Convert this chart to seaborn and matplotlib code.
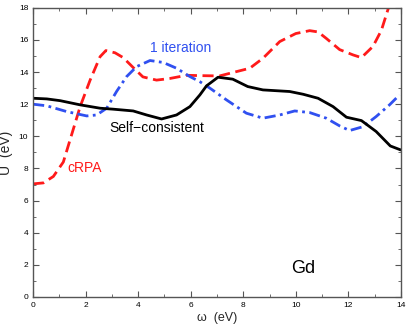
import numpy as np
import pandas as pd
import seaborn as sns
import matplotlib.pyplot as plt
from matplotlib.ticker import MultipleLocator

# cRPA (red dashed)
crpa_w = [0.0, 0.39, 0.77, 1.15, 1.41, 1.79, 2.17, 2.55, 2.77, 3.12, 3.43, 3.8, 4.18, 4.7, 5.2,
          5.84, 6.35, 7.1, 7.6, 8.25, 8.75, 9.39, 10.0, 10.53, 10.85, 11.16, 11.67, 12.18, 12.5,
          12.94, 13.26, 13.55]
crpa_u = [7.04, 7.1, 7.5, 8.4, 9.8, 11.85, 13.5, 14.96, 15.34, 15.2, 14.9, 14.3, 13.7, 13.5, 13.6,
          13.8, 13.78, 13.76, 13.97, 14.24, 14.86, 15.9, 16.4, 16.58, 16.5, 16.1, 15.4, 15.07, 14.9,
          15.6, 16.6, 18.1]

# 1 iteration (blue dash-dot)
iter_w = [0.0, 0.52, 1.28, 2.04, 2.42, 2.8, 3.18, 3.56, 3.94, 4.45, 4.95, 5.46, 5.97, 6.35, 6.73,
          7.36, 8.12, 8.75, 9.39, 9.96, 10.53, 11.16, 11.67, 12.05, 12.56, 13.06, 13.57, 13.95]
iter_u = [12.0, 11.9, 11.54, 11.27, 11.33, 11.75, 12.8, 13.72, 14.34, 14.72, 14.6, 14.24, 13.72,
          13.4, 13.0, 12.27, 11.44, 11.13, 11.33, 11.58, 11.48, 11.13, 10.65, 10.36, 10.6, 11.23,
          11.96, 12.58]

# Self-consistent (black solid)
sc_w = [0.0, 0.52, 1.03, 1.79, 2.55, 3.05, 3.81, 4.32, 4.89, 5.46, 5.97, 6.35, 6.6, 7.04, 7.6,
        8.17, 8.75, 9.77, 10.28, 10.85, 11.42, 11.93, 12.5, 13.06, 13.6, 14.0]
sc_u = [12.37, 12.33, 12.22, 11.96, 11.75, 11.69, 11.58, 11.33, 11.08, 11.33, 11.85, 12.58, 13.14,
        13.68, 13.56, 13.1, 12.89, 12.79, 12.62, 12.37, 11.85, 11.19, 10.98, 10.3, 9.4, 9.15]

sns.set_style("ticks")
plt.rcParams['font.family'] = ['Liberation Sans', 'DejaVu Sans']

fig = plt.figure(figsize=(4.09, 3.27), dpi=100)
ax = fig.add_axes([0.081, 0.092, 0.899, 0.884])

red = "#ff1a1a"
blue = "#3050f0"

sns.lineplot(x=crpa_w, y=crpa_u, ax=ax, color=red, lw=2, sort=False, dashes=False)
ax.lines[-1].set_dashes([4, 2])
sns.lineplot(x=iter_w, y=iter_u, ax=ax, color=blue, lw=2, sort=False)
ax.lines[-1].set_dashes([4, 1.6, 1, 1.6])
sns.lineplot(x=sc_w, y=sc_u, ax=ax, color="black", lw=2, sort=False)

ax.set_xlim(0, 14)
ax.set_ylim(0, 18)
ax.xaxis.set_major_locator(MultipleLocator(2))
ax.xaxis.set_minor_locator(MultipleLocator(1))
ax.yaxis.set_major_locator(MultipleLocator(2))
ax.yaxis.set_minor_locator(MultipleLocator(1))
ax.tick_params(which='both', direction='in', top=True, right=True, colors='#555555',
               labelcolor='black', labelsize=6)
ax.tick_params(which='major', length=4)
ax.tick_params(which='minor', length=2.5)
for sp in ax.spines.values():
    sp.set_color('#555555')
    sp.set_linewidth(1)

ax.set_xlabel("ω  (eV)", fontsize=9, labelpad=2)
ax.set_ylabel("U  (eV)", fontsize=10, labelpad=4)

ax.text(5.6, 15.5, "1 iteration", color=blue, fontsize=10, ha='center', va='center')
ax.text(4.7, 10.5, "Self\u2212consistent", color='black', fontsize=10, ha='center', va='center')
ax.text(1.3, 8.0, "cRPA", color=red, fontsize=10, ha='left', va='center')
ax.text(10.3, 1.8, "Gd", color='black', fontsize=13, ha='center', va='center')

fig.savefig("out.png", dpi=100)
